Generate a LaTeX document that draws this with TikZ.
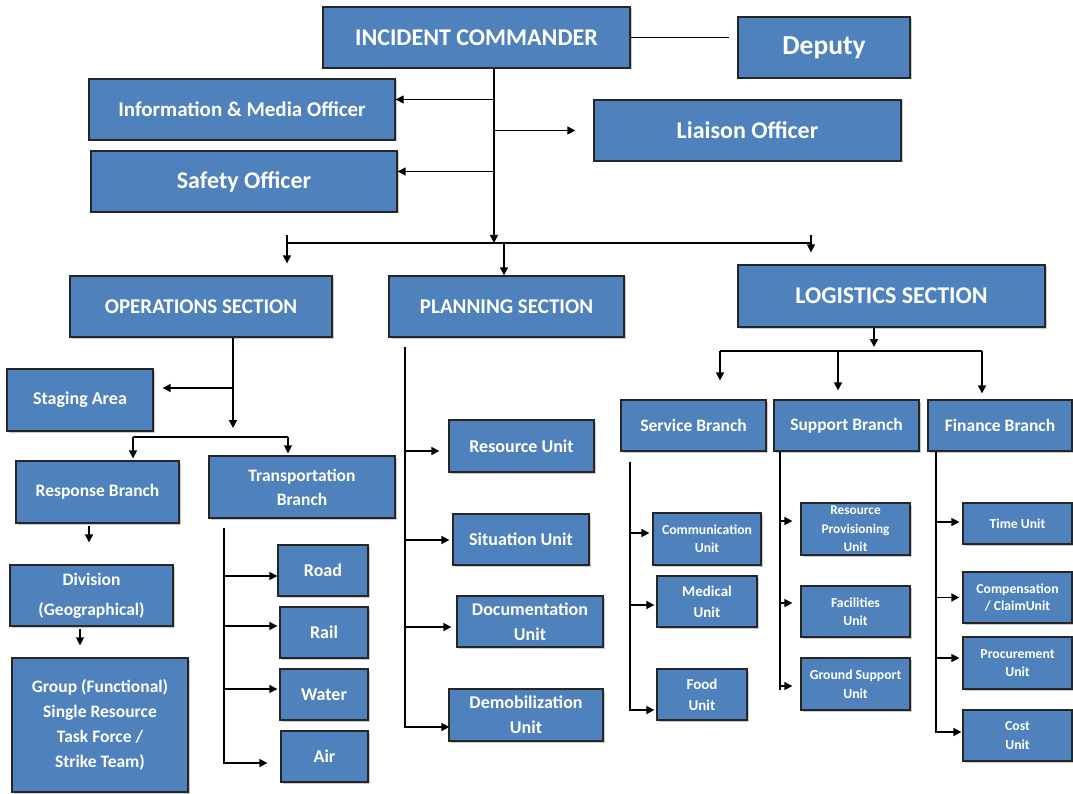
\documentclass[tikz,border=0pt]{standalone}
\usepackage{fontspec}
\setmainfont{Carlito}
\usepackage{tikz}
\usetikzlibrary{calc,arrows.meta,shadows}
\definecolor{boxblue}{HTML}{4F81BD}
\def\fs#1#2{\fontsize{#1}{#2}\selectfont\bfseries}

\begin{document}
\begin{tikzpicture}[x=1pt,y=-1pt,
	box/.style={draw=black!85, line width=1.3pt, fill=boxblue, text=white, align=center, inner sep=0pt,
		drop shadow={shadow xshift=1.5pt, shadow yshift=-1.5pt, fill=black!35, opacity=0.6}},
	link/.style={line width=1.6pt},
	toplink/.style={line width=1.2pt},
	arr/.style={line width=1.6pt, -{Triangle[length=8pt,width=8pt]}},
	toparr/.style={line width=1.2pt, -{Triangle[length=8pt,width=8pt]}}]
		%%%%% START %%%%%
		\useasboundingbox (0,0) rectangle (1073,794);
		
		% command staff
		\node[box, minimum width=307, minimum height=61, font=\fs{24}{28}] (ic) at (476.5,37.5) {INCIDENT COMMANDER};
		\node[box, minimum width=172, minimum height=61, font=\fs{27.5}{30}] (deputy) at (824,47.5) {Deputy};
		\node[box, minimum width=306, minimum height=61, font=\fs{21}{24}] (info) at (242,109.5) {Information \& Media Officer};
		\node[box, minimum width=307, minimum height=61, font=\fs{24}{26}] (liaison) at (747.5,130.5) {Liaison Officer};
		\node[box, minimum width=306, minimum height=61, font=\fs{24}{26}] (safety) at (244,181.5) {Safety Officer};
		
		% sections
		\node[box, minimum width=262, minimum height=61, font=\fs{21}{23}] (ops) at (201,306.5) {OPERATIONS SECTION};
		\node[box, minimum width=235, minimum height=61, font=\fs{21}{23}] (plan) at (506.5,306.5) {PLANNING SECTION};
		\node[box, minimum width=307, minimum height=62, font=\fs{24}{25}] (logi) at (891.5,296) {LOGISTICS SECTION};
		
		% operations
		\node[box, minimum width=146, minimum height=62, font=\fs{18}{24}] (staging) at (80,400) {Staging Area};
		\node[box, minimum width=163, minimum height=62, font=\fs{17.5}{24}] (response) at (97.5,492) {Response Branch};
		\node[box, minimum width=186, minimum height=62, font=\fs{17.5}{24}] (transport) at (302,487) {Transportation\\Branch};
		\node[box, minimum width=163, minimum height=61, font=\fs{17.5}{30}] (division) at (91.5,595.5) {Division\\(Geographical)};
		\node[box, minimum width=176, minimum height=134, font=\fs{17.5}{25}] (group) at (100,725) {Group (Functional)\\Single Resource\\Task Force /\\ Strike Team)};
		\node[box, minimum width=90, minimum height=51, font=\fs{18}{24}] (road) at (323,570.5) {Road};
		\node[box, minimum width=88, minimum height=51, font=\fs{18}{24}] (rail) at (324,632.5) {Rail};
		\node[box, minimum width=88, minimum height=51, font=\fs{18}{24}] (water) at (324,694.5) {Water};
		\node[box, minimum width=87, minimum height=51, font=\fs{18}{24}] (air) at (324.5,756.5) {Air};
		
		% planning
		\node[box, minimum width=145, minimum height=52, font=\fs{18}{25}] (resunit) at (521.5,446) {Resource Unit};
		\node[box, minimum width=136, minimum height=51, font=\fs{18}{25}] (situnit) at (521,539.5) {Situation Unit};
		\node[box, minimum width=146, minimum height=51, font=\fs{18}{25}] (docunit) at (530,621.5) {Documentation\\Unit};
		\node[box, minimum width=154, minimum height=52, font=\fs{18}{25}] (demob) at (526,715) {Demobilization\\Unit};
		
		% logistics
		\node[box, minimum width=145, minimum height=51, font=\fs{17.5}{24}] (service) at (693.5,425.5) {Service Branch};
		\node[box, minimum width=145, minimum height=51, font=\fs{17.5}{24}] (support) at (846.5,425.5) {Support Branch};
		\node[box, minimum width=144, minimum height=51, font=\fs{17.5}{24}] (finance) at (1000,425.5) {Finance Branch};
		
		\node[box, minimum width=108, minimum height=52, font=\fs{13.7}{18}] (comm) at (707,539) {Communication\\Unit};
		\node[box, minimum width=100, minimum height=51, font=\fs{15}{21}] (medical) at (707,601.5) {Medical\\Unit};
		\node[box, minimum width=90, minimum height=51, font=\fs{15}{21}] (food) at (702,694.5) {Food\\Unit};
		
		\node[box, minimum width=109, minimum height=52, font=\fs{13.3}{18.5}] (respro) at (855.5,529) {Resource\\Provisioning\\Unit};
		\node[box, minimum width=109, minimum height=51, font=\fs{13.7}{18}] (facil) at (855.5,611.5) {Facilities\\Unit};
		\node[box, minimum width=109, minimum height=52, font=\fs{13.7}{19}] (ground) at (855.5,684) {Ground Support\\Unit};
		
		\node[box, minimum width=109, minimum height=41, font=\fs{13.7}{18}] (time) at (1017.5,523.5) {Time Unit};
		\node[box, minimum width=109, minimum height=51, font=\fs{13.7}{17}] (comp) at (1017.5,597.5) {Compensation\\/ ClaimUnit};
		\node[box, minimum width=109, minimum height=52, font=\fs{13.7}{18}] (proc) at (1017.5,663) {Procurement\\Unit};
		\node[box, minimum width=109, minimum height=51, font=\fs{13.7}{19}] (cost) at (1017.5,735.5) {Cost\\Unit};
		
		% junctions
		\coordinate (icj) at (494,243);
		\coordinate (secl) at (287,243);
		\coordinate (secr) at (811,243);
		\coordinate (planj) at (504,243);
		\coordinate (opsj) at (233,437);
		\coordinate (stj) at (233,388);
		\coordinate (opsl) at (133,437);
		\coordinate (opsr) at (288,437);
		\coordinate (trj) at (224,523);
		\coordinate (plj) at (405,347);
		\coordinate (lgj) at (874,351);
		\coordinate (lgl) at (720,351);
		\coordinate (lgm) at (838,351);
		\coordinate (lgr) at (982,351);
		\coordinate (svj) at (630,462);
		\coordinate (spj) at (780,690);
		\coordinate (fnj) at (936,451);
		
		% command links
		\draw[toplink] (ic.east) -- ($(ic.east -| deputy.west)+(-8,0)$);
		\draw[toparr] (ic.south -| icj) -- (icj);
		\draw[toparr] ($(info.east -| icj)+(0,-10)$) -- ($(info.east)+(0,-10)$);
		\draw[toparr] (liaison.west -| icj) -- ($(liaison.west)+(-18,0)$);
		\draw[toparr] ($(safety.east -| icj)+(0,-10)$) -- ($(safety.east)+(0,-10)$);
		\draw[toplink] (secl) -- (secr);
		\draw[toparr] ($(secl)+(0,-8)$) -- ($(ops.north -| secl)+(0,-12)$);
		\draw[toparr] (planj) -- (plan.north -| planj);
		\draw[toparr] ($(secr)+(0,-8)$) -- ($(logi.north -| secr)+(0,-12)$);
		
		% operations links
		\draw[arr] (ops.south -| opsj) -- ($(opsj)+(0,-9)$);
		\draw[arr] (stj) -- ($(stj -| staging.east)+(9,0)$);
		\draw[link] (opsl) -- (opsr);
		\draw[arr] (opsl) -- ($(response.north -| opsl)+(0,-2)$);
		\draw[arr] (opsr) -- ($(transport.north -| opsr)+(0,-2)$);
		\draw[arr] ($(response.south)+(-8.5,2)$) -- ($(division.north)+(-2.5,-22)$);
		\draw[arr] ($(division.south)+(-11.5,2)$) -- ($(group.north)+(-20,-12)$);
		\draw[arr] ($(trj)+(0,5)$) |- ($(air.west)+(-13,6.5)$);
		\draw[arr] ($(road.west -| trj)+(0,5.5)$) -- ($(road.west)+(0,5.5)$);
		\draw[arr] ($(rail.west -| trj)+(0,-6.5)$) -- ($(rail.west)+(-2,-6.5)$);
		\draw[arr] ($(water.west -| trj)+(0,-5.5)$) -- ($(water.west)+(-2,-5.5)$);
		
		% planning links
		\draw[arr] (plj) |- ($(demob.west)+(1,12)$);
		\draw[arr] ($(resunit.west -| plj)+(0,5)$) -- ($(resunit.west)+(-9,5)$);
		\draw[arr] ($(situnit.west -| plj)+(0,0.5)$) -- ($(situnit.west)+(-3,0.5)$);
		\draw[arr] ($(docunit.west -| plj)+(0,5.5)$) -- ($(docunit.west)+(-5,5.5)$);
		
		% logistics links
		\draw[arr] (logi.south -| lgj) -- ($(lgj)+(0,-4)$);
		\draw[link] (lgl) -- (lgr);
		\draw[arr] (lgl) -- ($(service.north -| lgl)+(0,-19)$);
		\draw[arr] (lgm) -- ($(support.north -| lgm)+(0,-9)$);
		\draw[arr] (lgr) -- ($(finance.north -| lgr)+(0,-6)$);
		
		\draw[arr] (svj) |- ($(food.west)+(-2,15.5)$);
		\draw[arr] ($(comm.west -| svj)+(0,-6)$) -- ($(comm.west)+(-3,-6)$);
		\draw[arr] ($(medical.west -| svj)+(0,3.5)$) -- ($(medical.west)+(-2,3.5)$);
		
		\draw[link] (support.south -| spj) -- (spj);
		\draw[arr] ($(respro.west)+(-19,-8)$) -- ($(respro.west)+(-8,-8)$);
		\draw[arr] ($(facil.west)+(-19,-8.5)$) -- ($(facil.west)+(-8,-8.5)$);
		\draw[arr] ($(ground.west)+(-19,2)$) -- ($(ground.west)+(-8,2)$);
		
		\draw[arr] (finance.south -| fnj) |- ($(cost.west)+(-1,-3.5)$);
		\draw[arr] ($(time.west -| fnj)+(0,-1.5)$) -- ($(time.west)+(-3,-1.5)$);
		\draw[arr] (comp.west -| fnj) -- ($(comp.west)+(-3,0)$);
		\draw[arr] ($(proc.west -| fnj)+(0,-5)$) -- ($(proc.west)+(-3,-5)$);
		%%%%% END %%%%%
	\end{tikzpicture}
\end{document}
